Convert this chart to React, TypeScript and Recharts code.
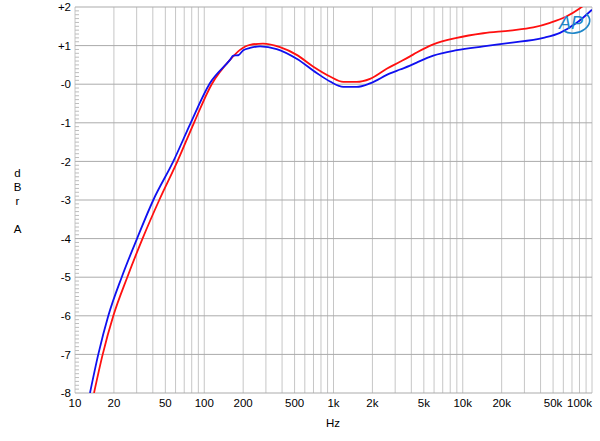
import React from "react";
import { LineChart, Line, XAxis, YAxis, CartesianGrid, ReferenceLine } from "recharts";

// ---- data ----
const redFreq = [14.03, 16.38, 19.79, 25.38, 33.3, 44.88, 62.0, 83.3, 114.2, 158.2, 189.1, 226, 284.8, 385.6, 519, 694, 940, 1191, 1512, 1916, 2579, 3270, 3908, 4403, 5918, 8979, 14420, 23210, 35140, 47320, 63730, 80770, 85660];
const redDb = [-8.0, -7.0, -6.0, -5.0, -4.0, -3.0, -2.0, -1.0, 0.0, 0.63, 0.89, 1.02, 1.05, 0.96, 0.76, 0.46, 0.2, 0.06, 0.06, 0.14, 0.4, 0.58, 0.72, 0.82, 1.03, 1.2, 1.32, 1.39, 1.47, 1.59, 1.76, 1.97, 2.03];

const blueFreq = [13.06, 15.14, 18.1, 22.98, 30.2, 40.35, 57.62, 78.6, 109.4, 158.2, 167.8, 183.4, 200.5, 226, 270, 363.6, 519, 741, 940, 1191, 1512, 1916, 2736, 3270, 3908, 4403, 5918, 8979, 14420, 23210, 42010, 56540, 76130, 100000];
const blueDb = [-8.0, -7.0, -6.0, -5.0, -4.0, -3.0, -2.0, -1.0, 0.0, 0.63, 0.74, 0.75, 0.88, 0.94, 0.98, 0.91, 0.66, 0.29, 0.07, -0.07, -0.07, 0.02, 0.28, 0.38, 0.48, 0.56, 0.74, 0.88, 0.98, 1.07, 1.2, 1.33, 1.59, 1.93];

const decades = [10, 100, 1000, 10000];
const multipliers = [1, 2, 3, 4, 5, 6, 7, 8, 9];
const xGridTicks = decades.flatMap((d) => multipliers.map((m) => d * m)).concat([100000]);
const xLabelValues = [10, 20, 50, 100, 200, 500, 1000, 2000, 5000, 10000, 20000, 50000, 100000];
const xLabelTexts = ["10", "20", "50", "100", "200", "500", "1k", "2k", "5k", "10k", "20k", "50k", "100k"];

const yMajor = [2, 1, 0, -1, -2, -3, -4, -5, -6, -7, -8];
const yMajorLabels = ["+2", "+1", "-0", "-1", "-2", "-3", "-4", "-5", "-6", "-7", "-8"];
const yMinor = Array.from({ length: 101 }, (_, i) => Math.round((-8 + i * 0.1) * 10) / 10);

const redData = redFreq.map((f, i) => ({ f, v: redDb[i] }));
const blueData = blueFreq.map((f, i) => ({ f, v: blueDb[i] }));

const FONT = '"Liberation Sans", Arial, sans-serif';

const XTick = (props: any) => {
  const { x, y, payload } = props;
  const idx = xLabelValues.indexOf(payload.value);
  if (idx < 0) return <g />;
  const last = idx === xLabelValues.length - 1;
  return (
    <text x={x} y={y + 6} dy="0.71em" textAnchor={last ? "end" : "middle"} fontSize={11.5} fontFamily={FONT} fill="#000">
      {xLabelTexts[idx]}
    </text>
  );
};

const YTick = (props: any) => {
  const { x, y, payload } = props;
  const v = payload.value;
  const idx = yMajor.findIndex((m) => Math.abs(m - v) < 1e-6);
  return (
    <g>
      {idx < 0 && <line x1={x} x2={x + 4} y1={y} y2={y} stroke="#bdbdbd" strokeWidth={1} />}
      {idx >= 0 && (
        <text x={x - 4} y={y} dy="0.36em" textAnchor="end" fontSize={11.5} fontFamily={FONT} fill="#000">
          {yMajorLabels[idx]}
        </text>
      )}
    </g>
  );
};

export default function App() {
  return (
    <div style={{ position: "absolute", left: 0, top: 0, width: 600, height: 441, background: "#fff" }}>
      <LineChart width={600} height={441} margin={{ top: 7, right: 8, bottom: 0, left: 0 }}>
        <CartesianGrid horizontal={false} vertical={true} stroke="#c6c6c6" strokeWidth={1} />
        <XAxis
          dataKey="f"
          type="number"
          scale="log"
          domain={[10, 100000]}
          ticks={xGridTicks}
          interval={0}
          allowDataOverflow
          axisLine={false}
          tickLine={false}
          tickSize={0}
          tickMargin={0}
          height={48}
          tick={<XTick />}
        />
        <YAxis
          dataKey="v"
          type="number"
          domain={[-8, 2]}
          ticks={yMinor}
          interval={0}
          allowDataOverflow
          axisLine={false}
          tickLine={false}
          tickSize={0}
          tickMargin={0}
          width={75}
          tick={<YTick />}
        />
        {yMajor.map((v) => (
          <ReferenceLine key={v} y={v} stroke="#ababab" strokeWidth={1} ifOverflow="extendDomain" />
        ))}
        <Line data={redData} dataKey="v" type="monotone" stroke="#ff1010" strokeWidth={1.8} dot={false} isAnimationActive={false} />
        <Line data={blueData} dataKey="v" type="monotone" stroke="#1010f0" strokeWidth={1.8} dot={false} isAnimationActive={false} />
      </LineChart>
      <svg width={600} height={441} style={{ position: "absolute", left: 0, top: 0, pointerEvents: "none" }}>
        <g fontFamily={FONT} fontSize={11.5} fill="#000" textAnchor="middle">
          <text x={17.5} y={176.5}>d</text>
          <text x={17.5} y={190.5}>B</text>
          <text x={17.5} y={204.5}>r</text>
          <text x={17.5} y={233}>A</text>
          <text x={333} y={427}>Hz</text>
        </g>
        <g>
          <text x={571} y={29} textAnchor="middle" fontFamily={FONT} fontStyle="italic" fontSize={18} fill="#1f86c8">AP</text>
          <path d="M 564 31 A 13 9 -15 0 0 586 14" fill="none" stroke="#1f86c8" strokeWidth={1.6} />
        </g>
      </svg>
    </div>
  );
}
